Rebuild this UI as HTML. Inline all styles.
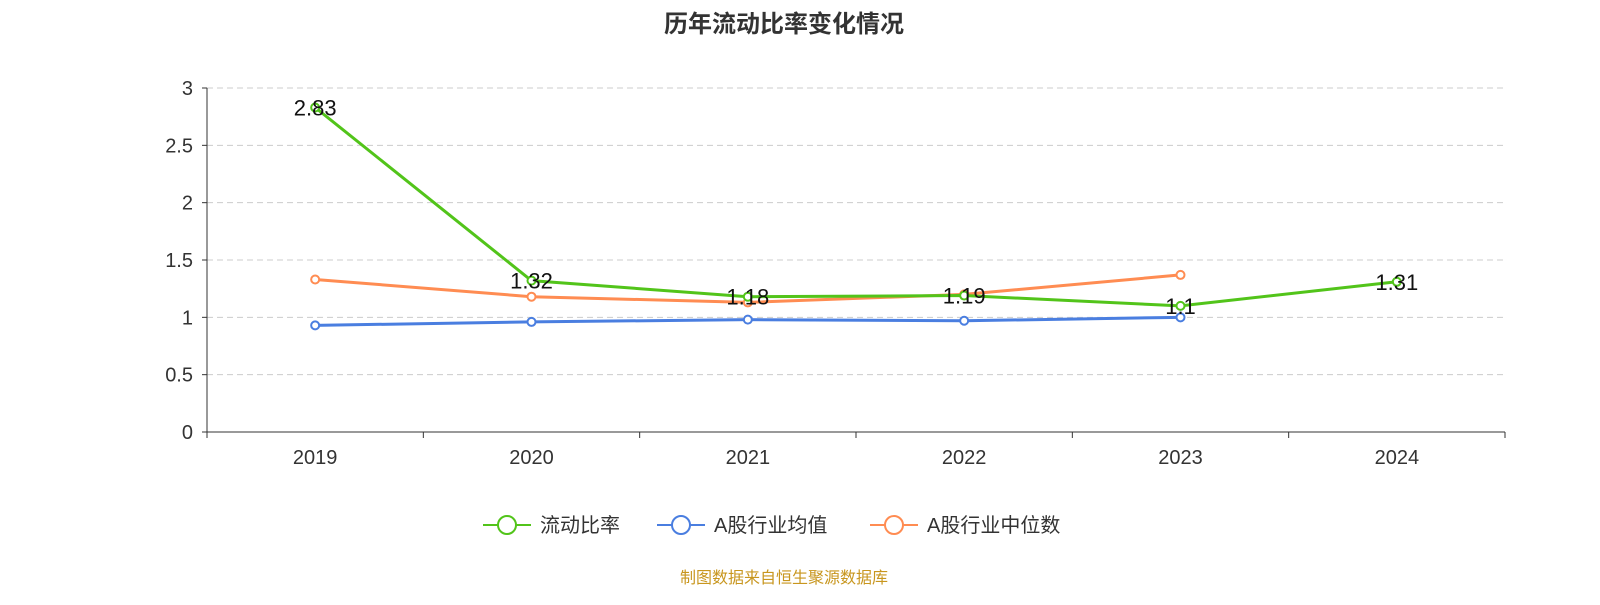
<!DOCTYPE html>
<html><head><meta charset="utf-8"><style>
body{margin:0;background:#fff;}
svg text{font-family:"Liberation Sans","Noto Sans CJK SC",sans-serif;}
</style></head><body>
<svg id="chart" width="1600" height="600" xmlns="http://www.w3.org/2000/svg">
<text x="784" y="32" text-anchor="middle" font-size="24" font-weight="bold" fill="#333">历年流动比率变化情况</text>
<g id="grid"></g><g id="axes"></g><g id="series"></g>
<g font-size="20" fill="#333">
 <g><line x1="483" y1="525" x2="531" y2="525" stroke="#52c41a" stroke-width="2"/><circle cx="507" cy="525" r="9" fill="#fff" stroke="#52c41a" stroke-width="2"/><text x="540" y="532">流动比率</text></g>
 <g><line x1="657" y1="525" x2="705" y2="525" stroke="#4a7ee0" stroke-width="2"/><circle cx="681" cy="525" r="9" fill="#fff" stroke="#4a7ee0" stroke-width="2"/><text x="714" y="532">A股行业均值</text></g>
 <g><line x1="870" y1="525" x2="918" y2="525" stroke="#ff8c52" stroke-width="2"/><circle cx="894" cy="525" r="9" fill="#fff" stroke="#ff8c52" stroke-width="2"/><text x="927" y="532">A股行业中位数</text></g>
</g>
<text x="784" y="583" text-anchor="middle" font-size="16" fill="#c8961e">制图数据来自恒生聚源数据库</text>
</svg>
<script>
const categories=["2019","2020","2021","2022","2023","2024"];
const ratioValues=[2.83,1.32,1.18,1.19,1.1,1.31];
const meanValues=[0.93,0.96,0.98,0.97,1.0];
const medianValues=[1.33,1.18,1.13,1.2,1.37];
const yTicks=[0,0.5,1,1.5,2,2.5,3];
const NS="http://www.w3.org/2000/svg";
const x0=207,x1=1505,yBase=432,yTop=88,yMax=3;
const band=(x1-x0)/categories.length;
const xs=i=>x0+band*(i+0.5);
const ys=v=>yBase-(v/yMax)*(yBase-yTop);
function mk(tag,attrs,parent){const e=document.createElementNS(NS,tag);for(const k in attrs)e.setAttribute(k,attrs[k]);parent.appendChild(e);return e;}
const grid=document.getElementById('grid'),axes=document.getElementById('axes'),ser=document.getElementById('series');
yTicks.forEach(t=>{const y=ys(t);
 if(t>0){const l=mk('line',{x1:x0,x2:x1,y1:y,y2:y,stroke:'#ccc','stroke-dasharray':'6,4'},grid);
 
 }
 mk('line',{x1:x0-5,x2:x0,y1:y,y2:y,stroke:'#333'},axes);
 const tx=mk('text',{x:x0-14,y:y+7,'text-anchor':'end','font-size':20,fill:'#333'},axes);tx.textContent=t;
 
 
});
mk('line',{x1:x0,x2:x0,y1:yTop,y2:yBase,stroke:'#333'},axes);
mk('line',{x1:x0,x2:x1,y1:yBase,y2:yBase,stroke:'#333'},axes);
for(let i=0;i<=categories.length;i++){const x=x0+band*i;mk('line',{x1:x,x2:x,y1:yBase,y2:yBase+6,stroke:'#333'},axes);}
categories.forEach((c,i)=>{const t=mk('text',{x:xs(i),y:yBase+32,'text-anchor':'middle','font-size':20,fill:'#333'},axes);t.textContent=c;
 
 });
function series(vals,color,name,labels){
 const g=mk('g',{},ser);
 
 
 const pts=vals.map((v,i)=>xs(i)+','+ys(v)).join(' ');
 mk('polyline',{points:pts,fill:'none',stroke:color,'stroke-width':3},g);
 vals.forEach((v,i)=>{const c=mk('circle',{cx:xs(i),cy:ys(v),r:4,fill:'#fff',stroke:color,'stroke-width':2},g);
  
  
  if(labels){const t=mk('text',{x:xs(i),y:ys(v)+8,'text-anchor':'middle','font-size':22,fill:'#111'},g);t.textContent=v;
   
   }
 });
}
series(meanValues,'#4a7ee0','industry-mean-line',false);
series(medianValues,'#ff8c52','industry-median-line',false);
series(ratioValues,'#52c41a','current-ratio-line',true);
</script>
</body></html>
